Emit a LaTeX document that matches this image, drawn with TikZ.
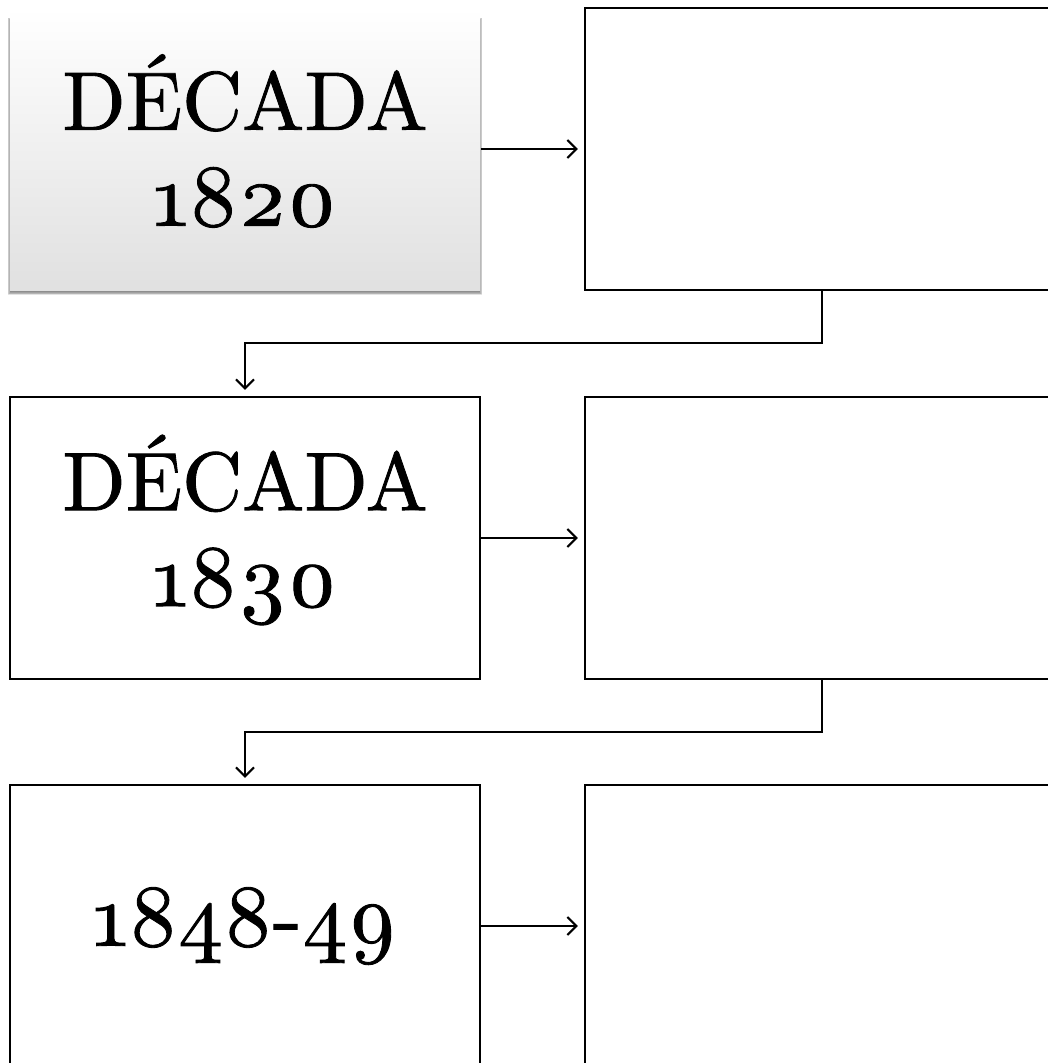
\documentclass[tikz,border=0pt]{standalone}
\usepackage{fontspec}
\usetikzlibrary{arrows.meta}
\newfontface\lmheavy{lmroman10-regular.otf}[RawFeature={embolden=1.0}]
\font\osf="[lmroman10-regular.otf]:+onum;embolden=1.0" at 88pt
\begin{document}
\begin{tikzpicture}[x=1pt,y=-1pt,
  box/.style={draw=black, line width=2.4pt, minimum width=470pt, minimum height=282pt, inner sep=0pt, anchor=center},
  rbox/.style={box, minimum width=474pt},
  conn/.style={line width=2pt, -{Straight Barb[length=9pt,width=18pt,line width=2pt]}, shorten >=6pt},
  lbl/.style={font=\lmheavy\fontsize{83}{96}\selectfont, align=center, inner sep=0pt}]
\useasboundingbox (0,0) rectangle (1048,1063);
\clip (0,0) rectangle (1048,1063);
% drop shadow of the first box
\foreach \i in {0,...,7}
  \fill[black, opacity=0.11] (12-\i*0.6, 20-\i*0.3) rectangle (478+\i*0.6, 289+\i*0.9);
% boxes
\node[box, draw=none, top color=white, middle color=black!3, bottom color=black!12] (a1) at (245,149) {};
\node[rbox] (b1) at (822,149) {};
\node[box] (a2) at (245,538) {};
\node[rbox] (b2) at (822,538) {};
\node[box] (a3) at (245,926) {};
\node[rbox] (b3) at (822,926) {};
% texts
\node[lbl] (t1) at ([yshift=8pt]a1.center) {DÉCADA\\{\osf 1820}};
\node[lbl] (t2) at ([yshift=8pt]a2.center) {DÉCADA\\{\osf 1830}};
\node[lbl] (t3) at (a3.center) {{\osf 1848-49}};
% connectors
\draw[conn] (a1.east) -- (b1.west);
\draw[conn] (a2.east) -- (b2.west);
\draw[conn] (a3.east) -- (b3.west);
\draw[conn] (b1.south) -- ++(0,52) -| (a2.north);
\draw[conn] (b2.south) -- ++(0,52) -| (a3.north);
\end{tikzpicture}
\end{document}
